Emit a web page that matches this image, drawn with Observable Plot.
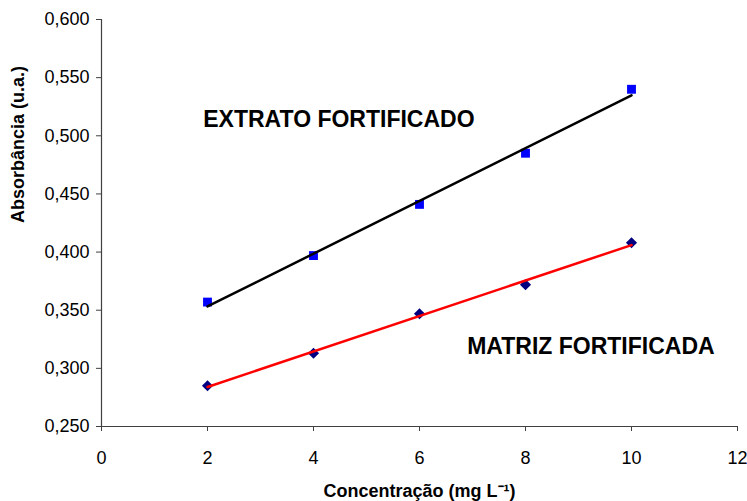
<!DOCTYPE html>
<html>
<head>
<meta charset="utf-8">
<script src="https://cdn.jsdelivr.net/npm/d3@7"></script>
<script src="https://cdn.jsdelivr.net/npm/@observablehq/plot@0.6"></script>
<style>
  html, body { margin: 0; padding: 0; background: #fff; }
  #chart svg { display: block; }
</style>
</head>
<body>
<div id="chart"></div>
<script>
const concentrations = [2, 4, 6, 8, 10];
const extratoValues = [0.357, 0.397, 0.441, 0.485, 0.540];
const matrizValues = [0.285, 0.313, 0.347, 0.372, 0.408];
const xTicks = [0, 2, 4, 6, 8, 10, 12];
const yTicks = [0.25, 0.30, 0.35, 0.40, 0.45, 0.50, 0.55, 0.60];
const seriesLabels = [
  {text: "EXTRATO FORTIFICADO", x: 1.92, y: 0.5135},
  {text: "MATRIZ FORTIFICADA", x: 6.9, y: 0.319}
];
const xTitle = "Concentração (mg L⁻¹)";
const yTitle = "Absorbância (u.a.)";

const extrato = concentrations.map((c, i) => ({x: c, y: extratoValues[i]}));
const matriz = concentrations.map((c, i) => ({x: c, y: matrizValues[i]}));
const fmt = v => d3.format(".3f")(v).replace(".", ",");
const font = "Liberation Sans, Arial, Helvetica, sans-serif";

const chart = Plot.plot({
  width: 747,
  height: 501,
  marginLeft: 101,
  marginRight: 10,
  marginTop: 19,
  marginBottom: 75,
  style: {fontFamily: font, background: "#fff", color: "#000"},
  x: {domain: [0, 12]},
  y: {domain: [0.25, 0.6]},
  marks: [
    Plot.axisY({ticks: yTicks, tickFormat: fmt, tickSize: 5, tickPadding: 7, fontSize: 18, label: null, stroke: "#404040"}),
    Plot.axisX({ticks: xTicks, tickFormat: d => String(d), tickSize: 5, tickPadding: 20, fontSize: 18, label: null, stroke: "#404040"}),
    Plot.ruleX([0], {stroke: "#404040", strokeWidth: 1.2}),
    Plot.ruleY([0.25], {stroke: "#404040", strokeWidth: 1.2}),
    Plot.dot(extrato, {x: "x", y: "y", symbol: "square", r: 5, fill: "#0000ff", stroke: "none"}),
    Plot.dot(matriz, {x: "x", y: "y", symbol: "diamond2", r: 5, fill: "#000080", stroke: "none"}),
    Plot.linearRegressionY(extrato, {x: "x", y: "y", stroke: "#000", strokeWidth: 2.5, ci: 0}),
    Plot.linearRegressionY(matriz, {x: "x", y: "y", stroke: "#ff0000", strokeWidth: 2.5, ci: 0}),
    Plot.text(seriesLabels, {x: "x", y: "y", text: "text", textAnchor: "start", fontSize: 23, fontWeight: "bold", fill: "#000"}),
    Plot.text([xTitle], {text: d => d, frameAnchor: "bottom", dy: 70, fontSize: 18, fontWeight: "bold", fill: "#000"}),
    Plot.text([yTitle], {text: d => d, frameAnchor: "left", dx: -83, rotate: -90, fontSize: 18, fontWeight: "bold", fill: "#000"})
  ]
});
document.getElementById("chart").appendChild(chart);
</script>
</body>
</html>
